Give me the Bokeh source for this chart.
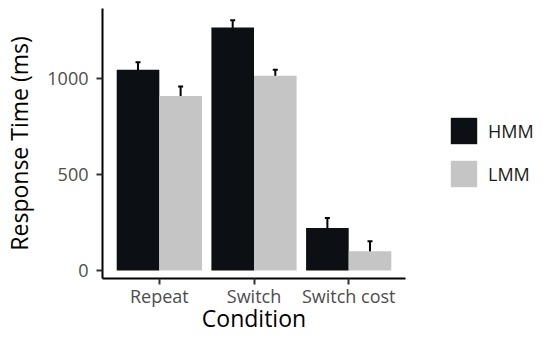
from bokeh.plotting import figure
from bokeh.layouts import row
from bokeh.models import (ColumnDataSource, FixedTicker, Range1d, Legend, LegendItem,
                          Whisker, TeeHead)
from bokeh.transform import dodge
from bokeh.embed import file_html
from bokeh.resources import INLINE

# ---- data ----
conditions = ["Repeat", "Switch", "Switch cost"]
groups = ["HMM", "LMM"]
hmm = [1047, 1268, 221]
lmm = [910, 1016, 100]
hmm_err = [40, 38, 53]
lmm_err = [50, 32, 52]
y_ticks = [0, 500, 1000]

colors = {"HMM": "#0c0f13", "LMM": "#c4c5c4"}
FONT = "Open Sans"
H = 336

x = list(range(1, len(conditions) + 1))
src_h = ColumnDataSource(dict(x=x, top=hmm,
                              upper=[v + e for v, e in zip(hmm, hmm_err)],
                              lower=[v - e for v, e in zip(hmm, hmm_err)]))
src_l = ColumnDataSource(dict(x=x, top=lmm,
                              upper=[v + e for v, e in zip(lmm, lmm_err)],
                              lower=[v - e for v, e in zip(lmm, lmm_err)]))

p = figure(width=410, height=H, output_backend="svg", toolbar_location=None,
           x_range=Range1d(0.4, 3.6), y_range=Range1d(-42, 1367),
           min_border_left=96, min_border_right=5, min_border_top=8,
           min_border_bottom=0)
p.outline_line_color = None
p.grid.visible = False
p.background_fill_color = "white"
p.border_fill_color = "white"

bw = 0.45
r_h = p.vbar(x=dodge("x", -bw / 2, range=p.x_range), top="top", bottom=0, width=bw,
             source=src_h, fill_color=colors["HMM"], line_color=None)
r_l = p.vbar(x=dodge("x", bw / 2, range=p.x_range), top="top", bottom=0, width=bw,
             source=src_l, fill_color=colors["LMM"], line_color=None)

for src, off in ((src_h, -bw / 2), (src_l, bw / 2)):
    w = Whisker(source=src, base=dodge("x", off, range=p.x_range), upper="upper", lower="lower",
                dimension="height", line_width=2, line_color="black",
                upper_head=TeeHead(size=5, line_width=2, line_color="black"),
                lower_head=TeeHead(size=5, line_width=2, line_color="black"))
    p.add_layout(w)

# axes
p.xaxis.ticker = FixedTicker(ticks=x)
p.xaxis.major_label_overrides = {i: c for i, c in zip(x, conditions)}
p.yaxis.ticker = FixedTicker(ticks=y_ticks)
for ax in (p.xaxis[0], p.yaxis[0]):
    ax.axis_line_color = "black"
    ax.axis_line_width = 2
    ax.major_tick_line_color = "#333333"
    ax.major_tick_line_width = 2
    ax.major_tick_out = 6
    ax.major_tick_in = 0
    ax.minor_tick_line_color = None
    ax.minor_tick_out = 0
    ax.major_label_text_font = FONT
    ax.major_label_text_font_size = "18px"
    ax.major_label_text_color = "#4d4d4d"
    ax.axis_label_text_font = FONT
    ax.axis_label_text_font_size = "23px"
    ax.axis_label_text_font_style = "normal"
    ax.axis_label_text_color = "black"
p.xaxis.axis_label = "Condition"
p.yaxis.axis_label = "Response Time (ms)"
p.xaxis.major_label_standoff = -1
p.yaxis.major_label_standoff = 8
p.xaxis.axis_label_standoff = -9
p.yaxis.axis_label_standoff = 9

# legend panel (separate figure so it is not clipped by the plot frame)
pl = figure(width=125, height=H, output_backend="svg", toolbar_location=None,
            x_axis_location=None, y_axis_location=None,
            x_range=Range1d(0, 1), y_range=Range1d(0, 1),
            min_border_left=0, min_border_right=0, min_border_top=0, min_border_bottom=0)
pl.outline_line_color = None
pl.grid.visible = False
lh = pl.vbar(x=0.5, top=1, width=1, fill_color=colors["HMM"], line_color=None, visible=False)
ll = pl.vbar(x=0.5, top=1, width=1, fill_color=colors["LMM"], line_color=None, visible=False)
# frames of a row are aligned, so the legend is placed relative to the shared frame
legend = Legend(items=[LegendItem(label=groups[0], renderers=[lh]),
                       LegendItem(label=groups[1], renderers=[ll])],
                location=(37, 88), padding=0, margin=0, spacing=10,
                glyph_width=33, glyph_height=33, label_standoff=8,
                label_text_font=FONT, label_text_font_size="18px",
                label_text_color="#1a1a1a",
                border_line_color=None, background_fill_alpha=0)
pl.add_layout(legend)

open("out.html", "w").write(file_html(row(p, pl), INLINE))
